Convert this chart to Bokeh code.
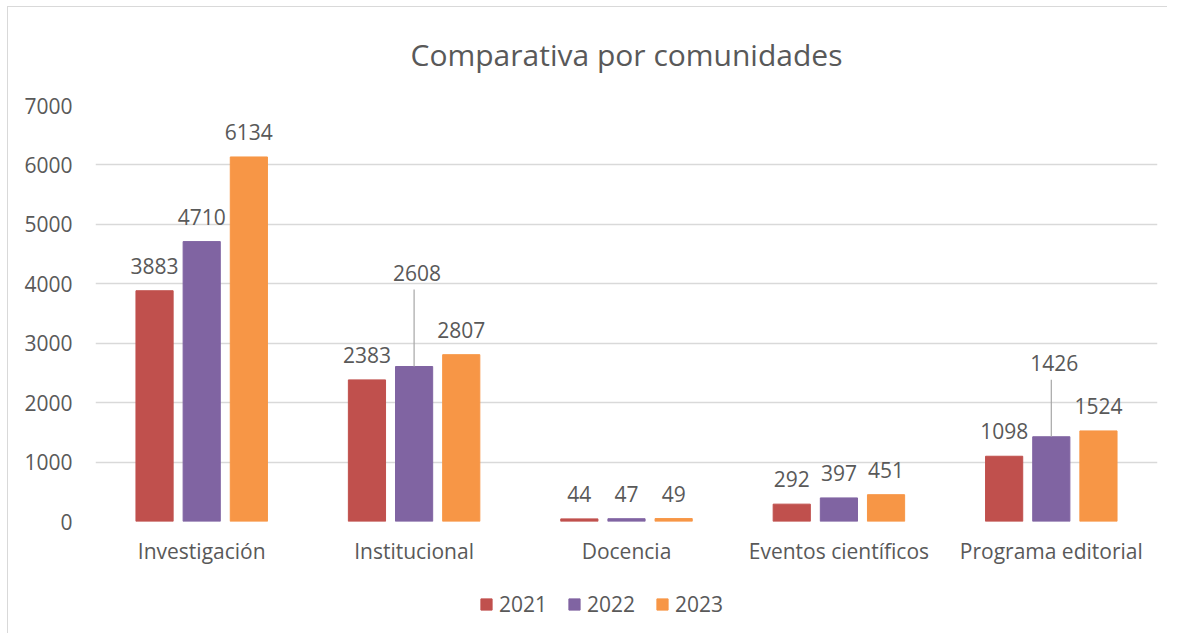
from bokeh.plotting import figure
from bokeh.layouts import column
from bokeh.models import FactorRange, Range1d, ColumnDataSource, Legend, LegendItem, FixedTicker
from bokeh.transform import dodge
from bokeh.core.properties import value
from bokeh.embed import file_html
from bokeh.resources import INLINE

# ---- data ----
categories = ["Investigación", "Institucional", "Docencia", "Eventos científicos", "Programa editorial"]
years = ["2021", "2022", "2023"]
v2021 = [3883, 2383, 44, 292, 1098]
v2022 = [4710, 2608, 47, 397, 1426]
v2023 = [6134, 2807, 49, 451, 1524]
y_ticks = [0, 1000, 2000, 3000, 4000, 5000, 6000, 7000]

# ---- style ----
colors = ["#C0504D", "#8064A2", "#F79646"]
offsets = [-0.222, 0.0, 0.222]
label_lift = [[25, 25, 25, 25, 25], [25, 94, 25, 25, 74], [25, 25, 25, 25, 25]]
label_shift = [[0, 0, 0, 0, 0], [0, 3, 0, 0, 3], [0, 0, 0, 0, 0]]
TXT = "#595959"
FONT = "Open Sans"
FS = "21px"
FRAME_H = 416
Y_MAX = 7000
units_per_px = Y_MAX / FRAME_H

p = figure(
    frame_width=1062, frame_height=FRAME_H,
    x_range=FactorRange(*categories, range_padding=0),
    y_range=Range1d(0, Y_MAX),
    output_backend="svg", toolbar_location=None,
    min_border_left=95, min_border_right=12, min_border_top=105, min_border_bottom=54,
)
p.border_fill_color = None

p.title.text = "Comparativa por comunidades"
p.title.align = "center"
p.title.text_font = FONT
p.title.text_font_size = "30px"
p.title.text_font_style = "normal"
p.title.text_color = TXT
p.title.standoff = 62

series = [v2021, v2022, v2023]
for i, (yr, vals) in enumerate(zip(years, series)):
    src = ColumnDataSource(dict(
        cat=categories, top=vals,
        label=[str(v) for v in vals],
        yoff=[-l for l in label_lift[i]],
        xoff=label_shift[i],
    ))
    p.vbar(x=dodge("cat", offsets[i], range=p.x_range), top="top", width=0.175,
           source=src, fill_color=colors[i], line_color=colors[i])
    p.text(x=dodge("cat", offsets[i], range=p.x_range), y="top", text="label",
           y_offset="yoff", x_offset="xoff", source=src,
           text_align="center", text_baseline="middle",
           text_font=value(FONT), text_font_size=FS, text_color=TXT)
    # leader lines for labels that were moved far from their bar
    lc, l0, l1 = [], [], []
    for c, v, lift in zip(categories, vals, label_lift[i]):
        if lift > 40:
            lc.append(c)
            l0.append(v)
            l1.append(v + (lift - 17) * units_per_px)
    if lc:
        lsrc = ColumnDataSource(dict(cat=lc, y0=l0, y1=l1))
        p.segment(x0=dodge("cat", offsets[i], range=p.x_range), y0="y0",
                  x1=dodge("cat", offsets[i], range=p.x_range), y1="y1",
                  source=lsrc, line_color="#A6A6A6", line_width=1.2)

# axes
p.yaxis.ticker = FixedTicker(ticks=y_ticks)
p.yaxis.axis_line_color = None
p.yaxis.major_tick_line_color = None
p.yaxis.minor_tick_line_color = None
p.yaxis.major_label_standoff = 17
p.yaxis.major_label_text_font = FONT
p.yaxis.major_label_text_font_size = FS
p.yaxis.major_label_text_color = TXT

p.xaxis.axis_line_color = None
p.xaxis.major_tick_line_color = None
p.xaxis.minor_tick_line_color = None
p.xaxis.major_label_standoff = 9
p.xaxis.major_label_text_font = FONT
p.xaxis.major_label_text_font_size = FS
p.xaxis.major_label_text_color = TXT

p.xgrid.grid_line_color = None
p.ygrid.grid_line_color = "#D9D9D9"
p.ygrid.grid_line_width = 1.5
p.outline_line_color = None

# ---- legend strip (separate small figure under the chart) ----
lg = figure(width=1169, height=58, x_range=Range1d(0, 1), y_range=Range1d(0, 1),
            x_axis_type=None, y_axis_type=None, output_backend="svg", toolbar_location=None,
            min_border=0)
lg.border_fill_color = None
lg.background_fill_color = None
lg.outline_line_color = None
lg.xgrid.visible = False
lg.ygrid.visible = False
items = []
for i, yr in enumerate(years):
    # legend proxy: a bar placed outside the visible range, only its swatch is shown
    r = lg.vbar(x=[-5], bottom=[-5], top=[-4], width=0.1,
                fill_color=colors[i], line_color=colors[i])
    items.append(LegendItem(label=yr, renderers=[r]))
legend = Legend(items=items, orientation="horizontal", location=(384, 15),
                label_text_font=FONT, label_text_font_size=FS, label_text_color=TXT,
                glyph_width=14, glyph_height=14, spacing=20, label_standoff=6,
                border_line_color=None, background_fill_alpha=0, margin=0, padding=0)
lg.add_layout(legend)

layout = column(p, lg, spacing=0)
layout.styles = {
    "background-color": "white",
    "background-image": "linear-gradient(#D9D9D9, #D9D9D9), linear-gradient(#D9D9D9, #D9D9D9)",
    "background-size": "1px 100%, 1160px 1px",
    "background-position": "7px 6px, 7px 6px",
    "background-repeat": "no-repeat",
}

open("out.html", "w").write(file_html(layout, INLINE))
